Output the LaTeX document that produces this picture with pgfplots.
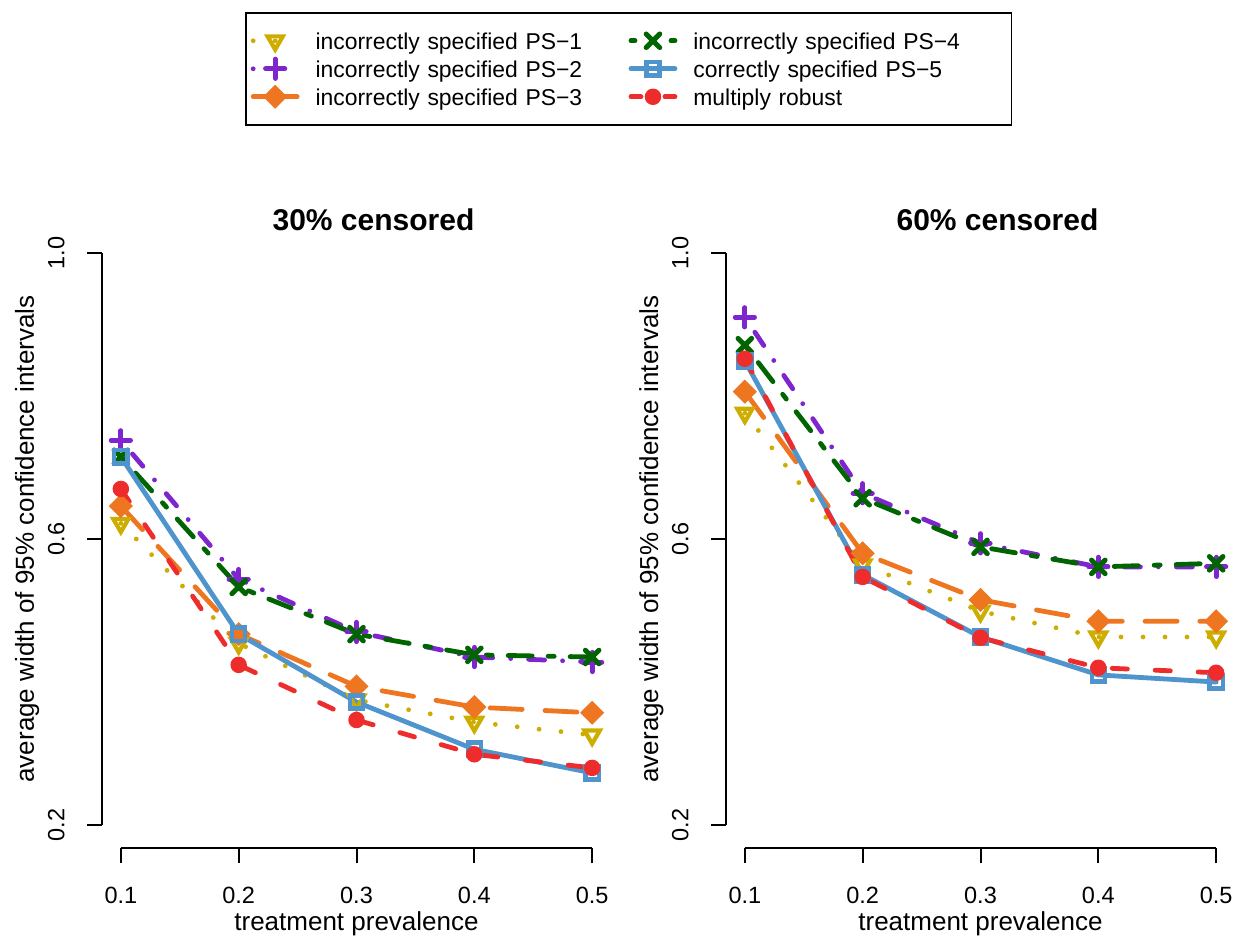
\documentclass[border=0pt]{standalone}
\usepackage{fontspec}
\setmainfont{Liberation Sans}
\usepackage{pgfplots}
\pgfplotsset{compat=1.18}

\definecolor{cPSa}{HTML}{CDAD00}
\definecolor{cPSb}{HTML}{7D26CD}
\definecolor{cPSc}{HTML}{EE7621}
\definecolor{cPSd}{HTML}{006400}
\definecolor{cPSe}{HTML}{4F94CD}
\definecolor{cMR}{HTML}{EE2C2C}

\newcommand{\basefont}{\fontsize{11.75}{14}\selectfont}
\newcommand{\labfont}{\fontsize{13}{15}\selectfont}
\newcommand{\legfont}{\fontsize{11.45}{14}\selectfont}

\pgfplotsset{
  ps1/.style={cPSa, line width=2.4pt, line cap=round, dash pattern=on 0pt off 11pt,
    mark=triangle, mark size=4.4pt, mark options={solid, rotate=180, line width=2.1pt}},
  ps2/.style={cPSb, line width=2.4pt, line cap=round, dash pattern=on 0pt off 9pt on 8pt off 9pt,
    mark=+, mark size=4.8pt, mark options={solid, line width=2.5pt}},
  ps3/.style={cPSc, line width=2.4pt, line cap=round, dash pattern=on 16pt off 11.4pt,
    mark=square*, mark size=4pt, mark options={solid, rotate=45, line width=0.5pt}},
  ps4/.style={cPSd, line width=2.4pt, line cap=round, dash pattern=on 3pt off 8pt on 12pt off 8pt,
    mark=x, mark size=4.8pt, mark options={solid, line width=2.5pt}},
  ps5/.style={cPSe, line width=2.4pt, line cap=round, solid,
    mark=square, mark size=3.3pt, mark options={solid, line width=2.2pt}},
  mr/.style={cMR, line width=2.4pt, line cap=round, dash pattern=on 7.6pt off 13.9pt,
    mark=*, mark size=2.9pt, mark options={solid}},
  rpanel/.style={
    width=254.5pt, height=309pt, scale only axis,
    xmin=0.084, xmax=0.516, ymin=0.168, ymax=1.032,
    axis x line*=bottom, axis y line*=left, axis line style={draw=none},
    xtick={0.1,0.2,0.3,0.4,0.5}, ytick={0.2,0.6,1.0},
    tick align=outside, major tick length=7.5pt,
    tick style={black, line width=1pt},
    /pgf/number format/.cd, fixed, fixed zerofill, precision=1, assume math mode=true,
    /pgfplots/.cd,
    ticklabel style={font=\basefont, inner sep=0pt},
    xticklabel style={anchor=north},
    yticklabel style={rotate=90, anchor=south},
    xticklabel shift=12pt, yticklabel shift=11pt,
    clip=false,
    xlabel={treatment prevalence},
    ylabel={average width of 95\% confidence intervals},
    label style={font=\labfont, inner sep=0pt},
    xlabel style={at={(axis description cs:0.5,-0.1327)}, anchor=base},
    ylabel style={at={(axis description cs:-0.1336,0.5)}, anchor=base},
    title style={at={(axis description cs:0.5,1)}, anchor=base, inner sep=0pt,
      yshift=-6pt, xshift=8.5pt,
      font=\bfseries\fontsize{15}{18}\selectfont},
  },
}

\begin{document}
\begin{tikzpicture}
\path[use as bounding box] (0,0) rectangle (618.5pt,-470pt);

% left panel: 30% censored
\begin{axis}[rpanel, at={(51pt,-424pt)}, anchor=south west,
  title={30\% censored},
  legend columns=2,
  legend cell align=left,
  legend image code/.code={\draw[mark repeat=2,mark phase=2,#1]
    plot coordinates {(0pt,0pt) (11pt,0pt) (22pt,0pt)};},
  legend style={at={(axis description cs:0.2809,1.3528)}, anchor=north west,
    draw=black, line width=0.8pt, font=\legfont,
    inner xsep=2.5pt, inner ysep=7pt, row sep=0pt,
    nodes={inner sep=0pt, text height=11.5pt, text depth=2.5pt},
    /tikz/every odd column/.append style={column sep=8pt},
    /tikz/every even column/.append style={column sep=0pt, text width=156.5pt}},
]
\addlegendimage{ps1}\addlegendentry{incorrectly specified PS−1}
\addlegendimage{ps4, dash pattern=on 2pt off 18pt}\addlegendentry{incorrectly specified PS−4}
\addlegendimage{ps2, dash pattern=on 0pt off 22pt}\addlegendentry{incorrectly specified PS−2}
\addlegendimage{ps5}\addlegendentry{correctly specified PS−5}
\addlegendimage{ps3, dash pattern=on 6pt off 10pt}\addlegendentry{incorrectly specified PS−3}
\addlegendimage{mr, dash pattern=on 5pt off 12pt}\addlegendentry{multiply robust}

\draw[black, line width=1pt] (axis cs:0.1,0.168) -- (axis cs:0.5,0.168);
\draw[black, line width=1pt] (axis cs:0.084,0.2) -- (axis cs:0.084,1.0);

\addplot[ps1, forget plot] coordinates {(0.1,0.622) (0.2,0.454) (0.3,0.375) (0.4,0.344) (0.5,0.326)};
\addplot[ps2, forget plot] coordinates {(0.1,0.738) (0.2,0.544) (0.3,0.470) (0.4,0.435) (0.5,0.428)};
\addplot[ps3, forget plot] coordinates {(0.1,0.646) (0.2,0.467) (0.3,0.394) (0.4,0.365) (0.5,0.357)};
\addplot[ps4, forget plot] coordinates {(0.1,0.715) (0.2,0.533) (0.3,0.467) (0.4,0.438) (0.5,0.435)};
\addplot[ps5, forget plot] coordinates {(0.1,0.715) (0.2,0.467) (0.3,0.372) (0.4,0.306) (0.5,0.273)};
\addplot[mr, forget plot] coordinates {(0.1,0.670) (0.2,0.424) (0.3,0.347) (0.4,0.299) (0.5,0.280)};
\end{axis}

% right panel: 60% censored
\begin{axis}[rpanel, at={(363pt,-424pt)}, anchor=south west,
  title={60\% censored}]
\draw[black, line width=1pt] (axis cs:0.1,0.168) -- (axis cs:0.5,0.168);
\draw[black, line width=1pt] (axis cs:0.084,0.2) -- (axis cs:0.084,1.0);

\addplot[ps1] coordinates {(0.1,0.776) (0.2,0.564) (0.3,0.499) (0.4,0.463) (0.5,0.463)};
\addplot[ps2] coordinates {(0.1,0.910) (0.2,0.664) (0.3,0.594) (0.4,0.561) (0.5,0.561)};
\addplot[ps3] coordinates {(0.1,0.806) (0.2,0.580) (0.3,0.515) (0.4,0.485) (0.5,0.485)};
\addplot[ps4] coordinates {(0.1,0.871) (0.2,0.657) (0.3,0.589) (0.4,0.561) (0.5,0.566)};
\addplot[ps5] coordinates {(0.1,0.849) (0.2,0.550) (0.3,0.463) (0.4,0.410) (0.5,0.400)};
\addplot[mr] coordinates {(0.1,0.852) (0.2,0.547) (0.3,0.462) (0.4,0.420) (0.5,0.413)};
\end{axis}
\end{tikzpicture}
\end{document}
